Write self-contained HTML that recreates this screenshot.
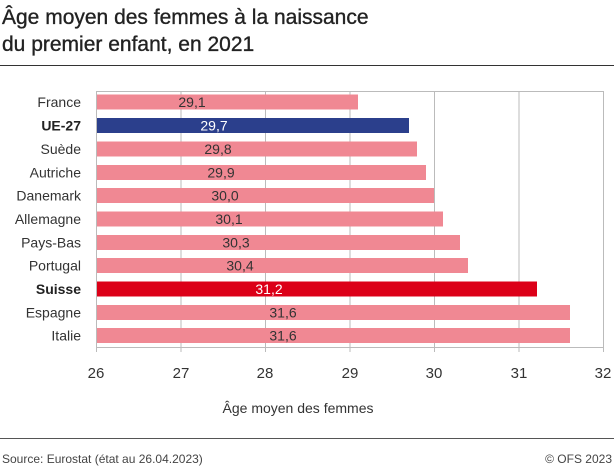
<!DOCTYPE html>
<html><head><meta charset="utf-8"><style>
body{margin:0;background:#fff}
svg{display:block;font-family:"Liberation Sans",sans-serif}
</style></head><body>
<svg width="614" height="468" viewBox="0 0 614 468" xmlns="http://www.w3.org/2000/svg">
<text x="2" y="24" font-size="21" fill="#222" stroke="#222" stroke-width="0.35">Âge moyen des femmes à la naissance</text>
<text x="2" y="51" font-size="21" fill="#222" stroke="#222" stroke-width="0.35">du premier enfant, en 2021</text>
<line x1="0" y1="65.5" x2="614" y2="65.5" stroke="#333" stroke-width="1"/>
<g stroke="#bbb" stroke-width="1">
<rect x="96.5" y="91.5" width="507" height="256" fill="none"/>
<line x1="181" y1="91" x2="181" y2="352"/>
<line x1="265.5" y1="91" x2="265.5" y2="352"/>
<line x1="350" y1="91" x2="350" y2="352"/>
<line x1="434.5" y1="91" x2="434.5" y2="352"/>
<line x1="519" y1="91" x2="519" y2="352"/>
<line x1="96.5" y1="347" x2="96.5" y2="352"/>
<line x1="603.5" y1="347" x2="603.5" y2="352"/>
</g>
<g>
<rect x="97" y="94.5" width="261" height="15" fill="#f08893"/>
<rect x="97" y="118" width="312" height="15" fill="#2b3f8c"/>
<rect x="97" y="141.5" width="320" height="15" fill="#f08893"/>
<rect x="97" y="165" width="329" height="15" fill="#f08893"/>
<rect x="97" y="188" width="337" height="15" fill="#f08893"/>
<rect x="97" y="211.5" width="346" height="15" fill="#f08893"/>
<rect x="97" y="235" width="363" height="15" fill="#f08893"/>
<rect x="97" y="258" width="371" height="15" fill="#f08893"/>
<rect x="97" y="281.5" width="440" height="15" fill="#dc0018"/>
<rect x="97" y="305" width="473" height="15" fill="#f08893"/>
<rect x="97" y="328" width="473" height="15" fill="#f08893"/>
</g>
<g font-size="14" text-anchor="middle" fill="#333">
<text x="192" y="107">29,1</text>
<text x="214" y="130.5" fill="#fff">29,7</text>
<text x="218" y="154">29,8</text>
<text x="221" y="177.5">29,9</text>
<text x="225" y="200.5">30,0</text>
<text x="229" y="224">30,1</text>
<text x="236" y="247.5">30,3</text>
<text x="240" y="270.5">30,4</text>
<text x="269" y="294" fill="#fff">31,2</text>
<text x="283" y="317.5">31,6</text>
<text x="283" y="340.5">31,6</text>
</g>
<g font-size="14" text-anchor="end" fill="#333">
<text x="81" y="107">France</text>
<text x="81" y="130.5" font-weight="bold" fill="#222">UE-27</text>
<text x="81" y="154">Suède</text>
<text x="81" y="177.5">Autriche</text>
<text x="81" y="200.5">Danemark</text>
<text x="81" y="224">Allemagne</text>
<text x="81" y="247.5">Pays-Bas</text>
<text x="81" y="270.5">Portugal</text>
<text x="81" y="294" font-weight="bold" fill="#222">Suisse</text>
<text x="81" y="317.5">Espagne</text>
<text x="81" y="340.5">Italie</text>
</g>
<g font-size="15" text-anchor="middle" fill="#333">
<text x="96" y="378">26</text>
<text x="181" y="378">27</text>
<text x="265" y="378">28</text>
<text x="350" y="378">29</text>
<text x="434" y="378">30</text>
<text x="519" y="378">31</text>
<text x="603" y="378">32</text>
<text x="298" y="413" font-size="14">Âge moyen des femmes</text>
</g>
<line x1="0" y1="438.5" x2="614" y2="438.5" stroke="#555" stroke-width="1"/>
<text x="2" y="463" font-size="12" fill="#444">Source: Eurostat (état au 26.04.2023)</text>
<text x="612" y="463" font-size="12" fill="#444" text-anchor="end">© OFS 2023</text>
</svg>
</body></html>
